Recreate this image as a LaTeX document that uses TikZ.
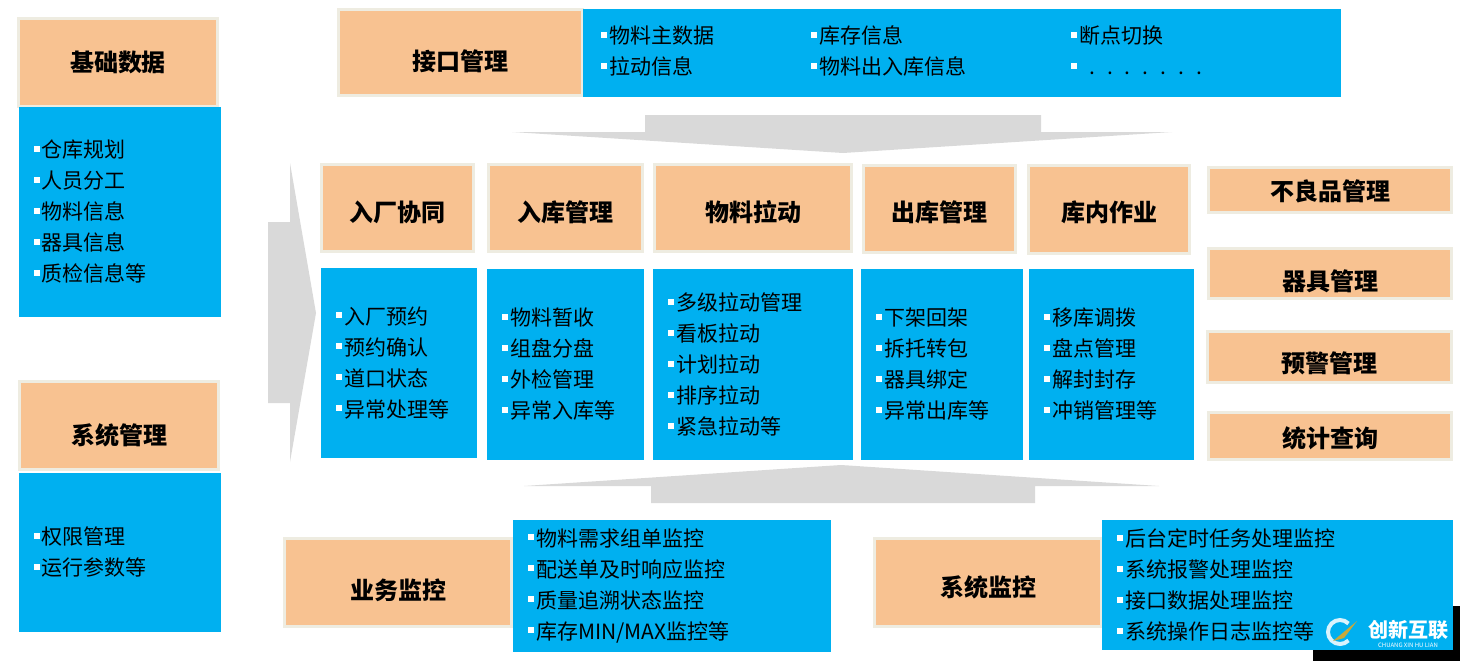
\documentclass[tikz,border=0pt]{standalone}
\usepackage{fontspec}
\setmainfont{Noto Sans CJK SC}
\definecolor{orbox}{HTML}{F8C291}
\definecolor{bdline}{HTML}{EEECE1}
\definecolor{sky}{HTML}{00B0F0}
\definecolor{arrgray}{HTML}{D9D9D9}
\definecolor{wmgold}{HTML}{C9A93A}
\newcommand\itm{\textcolor{white}{\rule[6pt]{6pt}{6pt}}\hspace{2pt}}
\begin{document}
\begin{tikzpicture}[x=1pt,y=-1pt,
    hd/.style={draw=bdline,line width=3pt,fill=orbox,inner sep=0pt,
      font=\fontsize{24}{28}\selectfont\bfseries,text height=#1,text depth=0pt},
    hd/.default=26pt,
    ls/.style={fill=sky,inner xsep=15pt,inner ysep=0pt,align=left,
      font=\fontsize{21}{31}\selectfont},
    arr/.style={fill=arrgray}]
  \useasboundingbox (0,0) rectangle (1460,661);
  % big grey arrows
  \fill[arr] (268,222) -- (290,222) -- (290,163) -- (316,313) -- (290,462) -- (290,403) -- (268,403) -- cycle;
  \fill[arr] (645,115) -- (1041,115) -- (1041,132) -- (1172,132) -- (843,153) -- (512,132) -- (645,132) -- cycle;
  \fill[arr] (841,465) -- (1159,486) -- (1035,486) -- (1035,503) -- (651,503) -- (651,486) -- (524,486) -- cycle;
  % left column
  \node[hd=18pt,minimum width=199pt,minimum height=88pt] (jcsj) at (118,62.5) {基础数据};
  \node[ls,minimum width=202pt,minimum height=210pt,text width=172pt] (jcsjl) at (120,212)
    {\itm 仓库规划\\ \itm 人员分工\\ \itm 物料信息\\ \itm 器具信息\\ \itm 质检信息等};
  \node[hd=38pt,minimum width=199pt,minimum height=88pt] (xtgl) at (119,425.5) {系统管理};
  \node[ls,minimum width=202pt,minimum height=159pt,text width=172pt] (xtgll) at (120,552.5)
    {\itm 权限管理\\ \itm 运行参数等};
  % interface
  \node[hd=36pt,minimum width=244pt,minimum height=86pt] (jkgl) at (460.5,52.5) {接口管理};
  \node[ls,anchor=west,minimum width=758pt,minimum height=88pt,text width=722pt,inner xsep=18pt] (jkgll) at (583,53)
    {\begin{tabular}{@{}p{210pt}@{}p{260pt}@{}l@{}}
      \itm 物料主数据 & \itm 库存信息 & \itm 断点切换\\
      \itm 拉动信息 & \itm 物料出入库信息 & \itm\hspace{10pt}.\hspace{12pt}.\hspace{12pt}.\hspace{12pt}.\hspace{12pt}.\hspace{12pt}.\hspace{12pt}.
    \end{tabular}};
  % main row
  \node[hd,minimum width=152pt,minimum height=87pt] (rcxt) at (397.5,208) {入厂协同};
  \node[hd,minimum width=154pt,minimum height=87pt] (rkgl) at (565.5,208) {入库管理};
  \node[hd,minimum width=197pt,minimum height=87pt] (wlld) at (753,208) {物料拉动};
  \node[hd=24pt,minimum width=152pt,minimum height=87pt] (ckgl) at (939.5,209) {出库管理};
  \node[hd=24pt,minimum width=161pt,minimum height=88pt] (knzy) at (1109,209.5) {库内作业};
  \node[ls,minimum width=156pt,minimum height=190pt,text width=126pt] (rcxtl) at (399,363)
    {\itm 入厂预约\\ \itm 预约确认\\ \itm 道口状态\\ \itm 异常处理等};
  \node[ls,minimum width=157pt,minimum height=191pt,text width=127pt] (rkgll) at (565.5,364.5)
    {\itm 物料暂收\\ \itm 组盘分盘\\ \itm 外检管理\\ \itm 异常入库等};
  \node[ls,minimum width=200pt,minimum height=191pt,text width=170pt] (wlldl) at (753,364.5)
    {\itm 多级拉动管理\\ \itm 看板拉动\\ \itm 计划拉动\\ \itm 排序拉动\\ \itm 紧急拉动等};
  \node[ls,minimum width=162pt,minimum height=191pt,text width=132pt] (ckgll) at (942,364.5)
    {\itm 下架回架\\ \itm 拆托转包\\ \itm 器具绑定\\ \itm 异常出库等};
  \node[ls,minimum width=165pt,minimum height=191pt,text width=135pt] (knzyl) at (1111.5,364.5)
    {\itm 移库调拨\\ \itm 盘点管理\\ \itm 解封封存\\ \itm 冲销管理等};
  % right column
  \node[hd=20pt,minimum width=243pt,minimum height=45pt] (blp) at (1330,190) {不良品管理};
  \node[hd=34pt,minimum width=243pt,minimum height=50pt] (qjgl) at (1330,273.5) {器具管理};
  \node[hd=30pt,minimum width=244pt,minimum height=51pt] (yjgl) at (1329.5,357) {预警管理};
  \node[hd=22pt,minimum width=243pt,minimum height=47pt] (tjcx) at (1330,436) {统计查询};
  % monitoring
  \node[hd=34pt,minimum width=227pt,minimum height=88pt] (ywjk) at (398,582.5) {业务监控};
  \node[ls,minimum width=318pt,minimum height=132pt,text width=288pt,inner xsep=15pt] (ywjkl) at (672,586)
    {\itm 物料需求组单监控\\ \itm 配送单及时响应监控\\ \itm 质量追溯状态监控\\ \itm 库存MIN/MAX监控等};
  \fill[black] (1313,606) rectangle (1460,661);
  \node[hd=27pt,minimum width=227pt,minimum height=88pt] (xtjk) at (988,582.5) {系统监控};
  \node[ls,minimum width=351pt,minimum height=130pt,text width=321pt] (xtjkl) at (1277.5,585)
    {\itm 后台定时任务处理监控\\ \itm 系统报警处理监控\\ \itm 接口数据处理监控\\ \itm 系统操作日志监控等};
  % mark
  \draw[white!85!sky,line width=4pt] (1340,632) ++(45:12) arc[start angle=45,end angle=315,radius=12];
  \fill[wmgold] (1333,641) -- (1357,621) -- (1344,638) -- cycle;
  \node[text=white,font=\fontsize{20}{20}\selectfont\bfseries,inner sep=0pt] (wmcn) at (1408,630) {创新互联};
  \node[text=white,font=\fontsize{6}{6}\selectfont,inner sep=0pt] (wmen) at (1408,645) {CHUANG XIN HU LIAN};
\end{tikzpicture}
\end{document}
